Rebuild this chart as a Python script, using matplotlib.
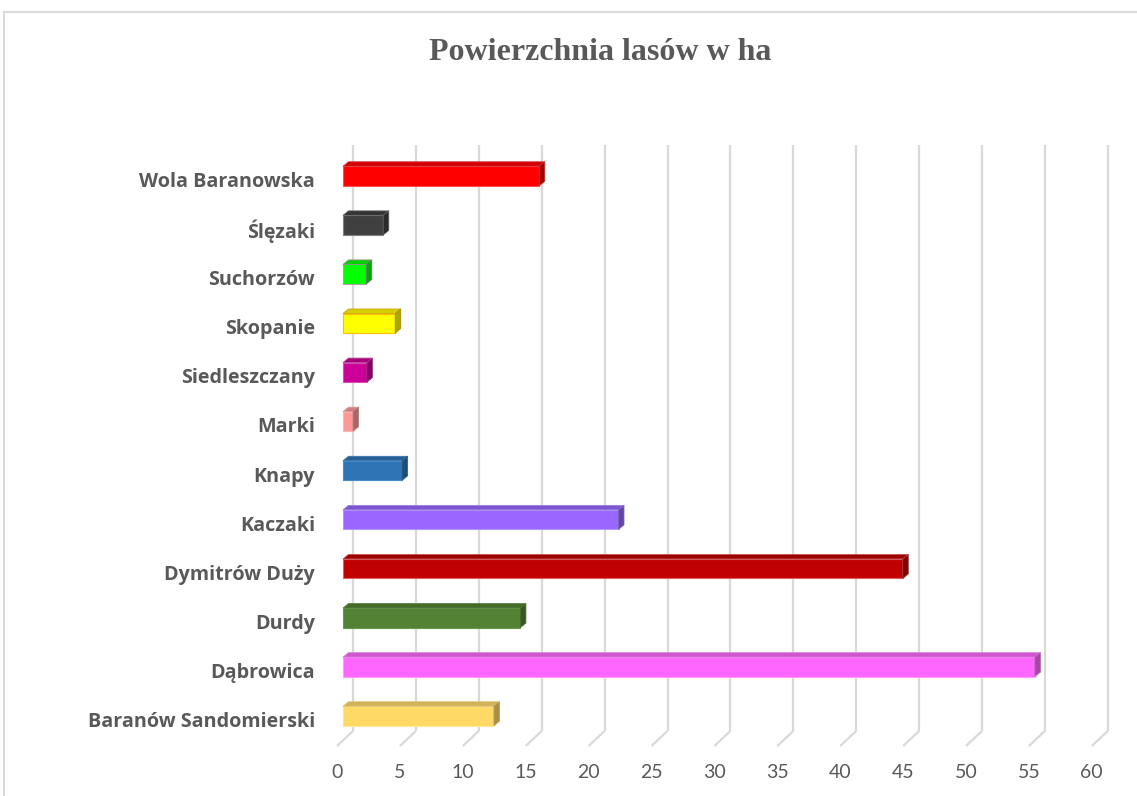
import matplotlib
matplotlib.use("Agg")
import matplotlib.pyplot as plt
from matplotlib.patches import Polygon
from matplotlib.lines import Line2D
import numpy as np
from matplotlib.colors import to_rgb

# ---- data ----
categories = ["Baranów Sandomierski", "Dąbrowica", "Durdy", "Dymitrów Duży",
              "Kaczaki", "Knapy", "Marki", "Siedleszczany", "Skopanie",
              "Suchorzów", "Ślęzaki", "Wola Baranowska"]
values = [12.0, 55.0, 14.1, 44.5, 21.9, 4.7, 0.8, 1.9, 4.15, 1.85, 3.2, 15.6]
colors = ["#FFD966", "#FF66FF", "#548235", "#C00000", "#9966FF", "#2E75B6",
          "#FF9999", "#CC0099", "#FFFF00", "#00FF00", "#404040", "#FF0000"]
edgecolors = ["#FFE699", "#FF99FF", "#6A9A48", "#E06060", "#B399FF", "#4A8AC8",
              "#FFB3B3", "#D94DB3", "#FFC000", "#A6A6A6", "#808080", "#FF4D4D"]
xticks = [0, 5, 10, 15, 20, 25, 30, 35, 40, 45, 50, 55, 60]
title = "Powierzchnia lasów w ha"

# ---- layout (pixels) ----
W, H = 1137, 796
DPI = 100
fig = plt.figure(figsize=(W / DPI, H / DPI), dpi=DPI)
fig.patch.set_facecolor("white")

x0_px = 343.0      # x pixel of value 0 on bar front plane
sx = 12.58         # px per unit
y_top_c = 176.0    # center of top bar (px from top)
sy = 49.09         # px per category
n = len(categories)
y_bot_c = y_top_c + sy * (n - 1)

ax_left = x0_px
ax_right = x0_px + sx * 60
ax_top = y_top_c - 0.5 * sy
ax_bottom = y_bot_c + 0.5 * sy
ax = fig.add_axes([ax_left / W, (H - ax_bottom) / H,
                   (ax_right - ax_left) / W, (ax_bottom - ax_top) / H])
ax.set_xlim(0, 60)
ax.set_ylim(-0.5, n - 0.5)
ax.axis("off")

def px2dx(p):
    return p / sx

def px2dy(p):
    return p / sy

def ypx(p):  # pixel-from-top -> data y
    return (y_bot_c - p) / sy

GRID = "#D9D9D9"
TEXT = "#595959"

# ---- gridlines (back wall + floor) ----
back_off = 10.0
front_off = -6.0
g_top = ypx(145)
g_bot = ypx(731)
g_floor = ypx(746)
for t in xticks:
    xb = t + px2dx(back_off)
    xf = t + px2dx(front_off)
    ax.add_line(Line2D([xb, xb], [g_top, g_bot], color=GRID, lw=1.6,
                       clip_on=False, zorder=1, solid_capstyle="butt"))
    ax.add_line(Line2D([xb, xf], [g_bot, g_floor], color=GRID, lw=1.6,
                       clip_on=False, zorder=1, solid_capstyle="butt"))
    ax.text(xf, ypx(773), str(t), ha="center", va="center", fontsize=14,
            color=TEXT, family="Lato", clip_on=False)

# ---- 3D-ish bars ----
h = px2dy(19.5)
ddx = px2dx(5.5)
ddy = px2dy(4.5)

def shade(c, f):
    r, g, b = to_rgb(c)
    return (r * f, g * f, b * f)

y = np.arange(n)
ax.barh(y, values, height=h, color=colors, edgecolor=edgecolors,
        linewidth=0.8, zorder=3, clip_on=False)
for yi, v, c, ec in zip(y, values, colors, edgecolors):
    top = yi + h / 2
    bot = yi - h / 2
    top_face = Polygon([[0, top], [v, top], [v + ddx, top + ddy], [ddx, top + ddy]],
                       closed=True, facecolor=shade(c, 0.82), edgecolor=shade(ec, 0.85),
                       linewidth=0.6, zorder=3, clip_on=False)
    side_face = Polygon([[v, bot], [v, top], [v + ddx, top + ddy], [v + ddx, bot + ddy]],
                        closed=True, facecolor=shade(c, 0.66), edgecolor=shade(ec, 0.7),
                        linewidth=0.6, zorder=3, clip_on=False)
    ax.add_patch(top_face)
    ax.add_patch(side_face)

# ---- category labels ----
for yi, lab in zip(y, categories):
    ax.text(px2dx(-28), yi - px2dy(6), lab, ha="right", va="center",
            fontsize=14.2, fontweight="bold", color=TEXT, family="Open Sans",
            clip_on=False)

# ---- title ----
fig.text(600 / W, 1 - 52 / H, title, ha="center", va="center",
         fontsize=23, fontweight="bold", color=TEXT, family="Liberation Serif")

# ---- chart border ----
fig.add_artist(Line2D([4 / W, 4 / W], [0, 1 - 12 / H], transform=fig.transFigure,
                      color=GRID, lw=1.5))
fig.add_artist(Line2D([4 / W, 1], [1 - 12 / H, 1 - 12 / H], transform=fig.transFigure,
                      color=GRID, lw=1.5))

fig.savefig("out.png", dpi=DPI, facecolor="white")
